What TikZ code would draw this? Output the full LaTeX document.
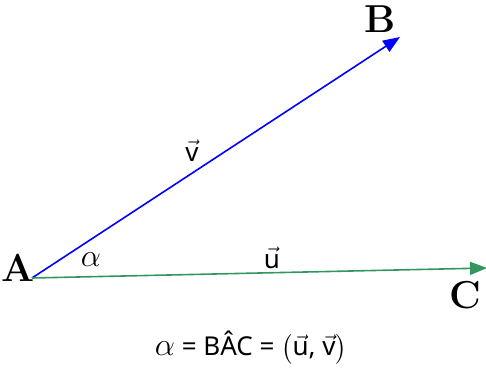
\RequirePackage{fix-cm}
\documentclass[tikz,border=0pt]{standalone}
\usepackage{amsmath}
\usepackage{fontspec}
\usepackage{tikz}
\usetikzlibrary{arrows.meta}
\newfontfamily\sansfont{Noto Sans}
\definecolor{vecblue}{RGB}{0,0,255}
\definecolor{vecgreen}{RGB}{52,150,95}
\newcommand\vsf[1]{\ensuremath{\vec{\hbox{\sansfont #1}}}}
\newcommand\bigalpha{{\fontsize{32}{36}\selectfont$\alpha$}}
\tikzset{
  vecline/.style={-{Triangle[length=17pt,width=13pt]},line width=1.6pt},
  pointlabel/.style={font=\fontsize{39}{44}\selectfont\bfseries,inner sep=0pt},
  veclabel/.style={font=\sansfont\fontsize{26}{30}\selectfont,inner sep=0pt},
  anglelabel/.style={inner sep=0pt}
}

\begin{document}
\begin{tikzpicture}[x=1pt,y=1pt]
  \useasboundingbox (0,0) rectangle (486,-369);
  \coordinate (A) at (32,-278);
  \coordinate (B) at (400,-37);
  \coordinate (C) at (487,-268);
  \draw[vecline,vecblue] (A) -- (B);
  \draw[vecline,vecgreen] (A) -- (C);
  \node[pointlabel] (labA) at (18,-268) {A};
  \node[pointlabel] (labB) at (380,-19) {B};
  \node[pointlabel] (labC) at (465,-295) {C};
  \node[anglelabel] (alpha) at (91,-260) {\bigalpha};
  \node[veclabel] (labv) at (192,-151) {\vsf{v}};
  \node[veclabel] (labu) at (272,-258) {\vsf{u}};
  \node[veclabel] (eq) at (251,-348) {\bigalpha{} = BÂC = $\bigl($\vsf{u}, \vsf{v}$\bigr)$};
\end{tikzpicture}
\end{document}
